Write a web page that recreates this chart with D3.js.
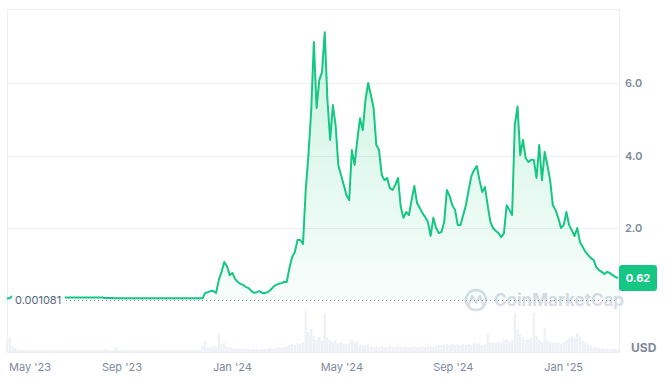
<!DOCTYPE html>
<html>
<head>
<meta charset="utf-8">
<script src="https://cdn.jsdelivr.net/npm/d3@7"></script>
<style>
  body { margin: 0; background: #fff; }
  svg { display: block; font-family: Inter, "Noto Sans", sans-serif; }
</style>
</head>
<body>
<div id="chart"></div>
<script>
// Price (USD), one reading every 3 days starting 27 Apr 2023
const startDate = new Date(2023, 3, 27);
const stepDays = 3;
const prices = [
  0.05, 0.07, 0.12, 0.09,
  0.08, 0.08, 0.08, 0.08, 0.08, 0.08, 0.08, 0.08, 0.08, 0.08, 0.08, 0.08, 0.08, 0.08, 0.08, 0.08,
  0.08, 0.08, 0.08, 0.08, 0.08, 0.08, 0.08, 0.08, 0.08, 0.08, 0.08, 0.08, 0.08, 0.08, 0.08, 0.08,
  0.07, 0.07, 0.07, 0.07, 0.06, 0.06, 0.06, 0.06, 0.06, 0.06, 0.06, 0.06, 0.06, 0.06, 0.06, 0.06,
  0.06, 0.06, 0.06, 0.06, 0.06, 0.06, 0.06, 0.06, 0.06, 0.06, 0.06, 0.06, 0.06, 0.06, 0.06, 0.06,
  0.06, 0.06, 0.06, 0.06, 0.06,
  0.21, 0.23, 0.26, 0.26, 0.21, 0.57, 0.79, 1.06, 0.95, 0.70, 0.76, 0.59, 0.51, 0.46, 0.43, 0.37,
  0.34, 0.26, 0.21, 0.23, 0.26, 0.21, 0.21, 0.23, 0.29, 0.37, 0.43, 0.46, 0.48, 0.51, 0.51, 0.90,
  1.20, 1.34, 1.67, 1.67, 1.56, 3.05, 4.01, 5.20, 7.13, 5.31, 6.08, 6.30, 7.40, 5.53, 4.43, 5.39,
  4.84, 3.74, 3.46, 3.19, 2.91, 2.77, 4.15, 3.74, 4.43, 5.03, 4.70, 5.53, 6.00, 5.67, 5.31, 4.29,
  4.15, 3.46, 3.32, 3.38, 3.10, 3.05, 3.19, 3.38, 2.58, 2.28, 2.44, 2.36, 2.77, 3.16, 2.69, 2.55,
  2.41, 2.30, 2.17, 1.78, 2.28, 2.00, 1.86, 1.89, 2.17, 3.05, 2.88, 2.63, 2.50, 2.08, 2.08, 2.36,
  2.63, 3.05, 3.43, 3.60, 3.71, 3.32, 2.99, 3.13, 2.63, 2.17, 2.00, 1.92, 1.86, 1.75, 1.86, 2.63,
  2.50, 2.36, 4.84, 5.35, 4.01, 4.43, 3.93, 3.82, 3.88, 3.88, 3.38, 4.29, 3.32, 4.10, 3.74, 3.32,
  2.63, 2.50, 2.28, 2.00, 2.08, 2.44, 2.08, 1.94, 1.78, 2.00, 1.61, 1.48, 1.34, 1.26, 1.17, 1.12,
  0.92, 0.84, 0.79, 0.73, 0.79, 0.76, 0.70, 0.65, 0.62
];

// Trading volume (relative units), same dates
const volumes = [
  10, 14, 6, 4,
  3, 2, 2, 2, 2, 2, 2, 2, 2, 2, 2, 2, 2, 2, 2, 2, 2, 2, 2, 2, 2, 2, 2, 2, 2, 2, 2, 2, 2, 2, 2, 2,
  3, 2, 2, 2,
  5,
  2, 2, 2, 2, 2, 2, 2, 2, 2, 2, 2, 2, 2, 2, 2, 2, 2, 2, 2, 2, 2, 2, 2, 2, 2, 2, 2, 2, 2, 2, 2,
  6, 11, 5, 5, 6, 5, 18, 8, 9, 6, 5, 4,
  3, 4, 3, 3, 4, 3, 2, 3, 3, 2, 3, 3, 3,
  4, 3, 4, 5, 4, 5, 6, 7, 8, 7, 9, 8, 10,
  41, 20, 23, 16, 12, 15, 11, 38, 15, 12, 10, 12, 9, 10, 8, 8, 9,
  12, 9, 10, 7, 6, 7, 8, 6, 5, 6, 5, 6, 5, 5, 6, 5, 5, 6, 5,
  5, 6, 5, 5, 6, 5, 5, 6, 5, 6, 6, 5, 6, 7, 7,
  8, 8, 7, 8, 7, 8, 7, 8, 7, 8, 7, 9, 8, 9, 7, 8,
  18, 10, 9, 9, 10, 9, 12, 13, 10, 12, 39, 22, 18, 15, 12, 13, 14,
  39, 16, 12, 10, 24, 12, 10, 9, 10, 9, 8, 10, 12, 14, 16, 14, 19, 15,
  11, 9, 7, 6, 5, 5, 4, 4, 3, 3, 3, 3, 3, 3
];

const yTicks = [2, 4, 6];
const yTickLabels = ["2.0", "4.0", "6.0"];
const xTickDates = [new Date(2023, 4, 1), new Date(2023, 8, 1), new Date(2024, 0, 1),
                    new Date(2024, 4, 1), new Date(2024, 8, 1), new Date(2025, 0, 1)];
const xTickLabels = ["May '23", "Sep '23", "Jan '24", "May '24", "Sep '24", "Jan '25"];
const openPrice = 0.001081;
const lastPriceLabel = "0.62";

const W = 671, H = 389;
const plot = { left: 7, right: 619, top: 9, bottom: 352 };
const green = "#16c784";
const grey = "#808a9d";

const priceData = prices.map((v, i) => ({ date: d3.timeDay.offset(startDate, i * stepDays), value: v }));
const volumeData = volumes.map((v, i) => ({ date: d3.timeDay.offset(startDate, i * stepDays), value: v }));

const svg = d3.select("#chart").append("svg")
  .attr("width", W)
  .attr("height", H);

const x = d3.scaleTime()
  .domain([startDate, priceData[priceData.length - 1].date])
  .range([plot.left, 618]);

const y = d3.scaleLinear()
  .domain([0, 6])
  .range([300.5, 83]);

const yVol = d3.scaleLinear()
  .domain([0, 50])
  .range([plot.bottom, plot.bottom - 50]);

// gradient for the area under the price line
const defs = svg.append("defs");
const grad = defs.append("linearGradient")
  .attr("id", "fillGrad")
  .attr("x1", 0).attr("y1", 0).attr("x2", 0).attr("y2", 1);
grad.append("stop").attr("offset", "0%").attr("stop-color", green).attr("stop-opacity", 0.22);
grad.append("stop").attr("offset", "100%").attr("stop-color", green).attr("stop-opacity", 0.03);

// frame
svg.append("rect")
  .attr("x", plot.left + 0.5)
  .attr("y", plot.top + 0.5)
  .attr("width", plot.right - plot.left)
  .attr("height", plot.bottom - plot.top)
  .attr("fill", "none")
  .attr("stroke", "#eceef2");

// horizontal gridlines
svg.selectAll(".grid")
  .data(yTicks)
  .enter().append("line")
  .attr("x1", plot.left)
  .attr("x2", plot.right)
  .attr("y1", d => Math.round(y(d)) + 0.5)
  .attr("y2", d => Math.round(y(d)) + 0.5)
  .attr("stroke", "#eef0f3");

// volume bars
svg.selectAll(".vol")
  .data(volumeData)
  .enter().append("rect")
  .attr("x", d => x(d.date) - 1.2)
  .attr("width", 2.4)
  .attr("y", d => yVol(d.value))
  .attr("height", d => plot.bottom - yVol(d.value))
  .attr("fill", "#eef1f5");

// watermark
const wm = svg.append("g").attr("opacity", 0.9);
wm.append("circle")
  .attr("cx", 476).attr("cy", 300).attr("r", 10)
  .attr("fill", "none").attr("stroke", "#d3d9e3").attr("stroke-width", 2.5);
wm.append("path")
  .attr("d", "M469,305 L472,296 L476,303 L480,296 L483,305")
  .attr("fill", "none").attr("stroke", "#d3d9e3").attr("stroke-width", 2.2)
  .attr("stroke-linejoin", "round");
wm.append("text")
  .attr("x", 494).attr("y", 306)
  .attr("font-size", 17).attr("font-weight", 700)
  .attr("fill", "#d3d9e3")
  .text("CoinMarketCap");

// area + line
const area = d3.area()
  .x(d => x(d.date))
  .y0(y(openPrice))
  .y1(d => y(d.value));
svg.append("path")
  .datum(priceData)
  .attr("fill", "url(#fillGrad)")
  .attr("d", area);

// dotted reference line at opening price
svg.append("line")
  .attr("x1", 66).attr("x2", 617)
  .attr("y1", y(openPrice)).attr("y2", y(openPrice))
  .attr("stroke", "#8a8f98")
  .attr("stroke-width", 1)
  .attr("stroke-dasharray", "1,3");

const line = d3.line()
  .x(d => x(d.date))
  .y(d => y(d.value));
svg.append("path")
  .datum(priceData)
  .attr("fill", "none")
  .attr("stroke", green)
  .attr("stroke-width", 2)
  .attr("stroke-linejoin", "round")
  .attr("d", line);

// opening price label
svg.append("rect")
  .attr("x", 12).attr("y", 292).attr("width", 53).attr("height", 16)
  .attr("fill", "#fff")
  .attr("opacity", 0.92);
svg.append("text")
  .attr("x", 15).attr("y", y(openPrice) + 4)
  .attr("font-size", 11)
  .attr("fill", "#58667e")
  .text(d3.format(".6f")(openPrice));

// right axis labels
svg.selectAll(".ylab")
  .data(yTicks)
  .enter().append("text")
  .attr("x", 625)
  .attr("y", d => y(d) + 4)
  .attr("font-size", 11)
  .attr("font-weight", 600)
  .attr("fill", grey)
  .text((d, i) => yTickLabels[i]);

// last price badge
const lastY = y(prices[prices.length - 1]);
svg.append("rect")
  .attr("x", 619).attr("y", lastY - 13)
  .attr("width", 38).attr("height", 26)
  .attr("rx", 3)
  .attr("fill", green);
svg.append("text")
  .attr("x", 638).attr("y", lastY + 4)
  .attr("text-anchor", "middle")
  .attr("font-size", 11)
  .attr("font-weight", 700)
  .attr("fill", "#fff")
  .text(lastPriceLabel);

// USD label
svg.append("text")
  .attr("x", 631).attr("y", 352)
  .attr("font-size", 12)
  .attr("font-weight", 700)
  .attr("fill", grey)
  .text("USD");

// x axis labels
svg.selectAll(".xlab")
  .data(xTickDates)
  .enter().append("text")
  .attr("x", (d, i) => i === 0 ? 9 : x(d))
  .attr("y", 371)
  .attr("text-anchor", (d, i) => i === 0 ? "start" : "middle")
  .attr("font-size", 11)
  .attr("fill", grey)
  .text((d, i) => xTickLabels[i]);
</script>
</body>
</html>
